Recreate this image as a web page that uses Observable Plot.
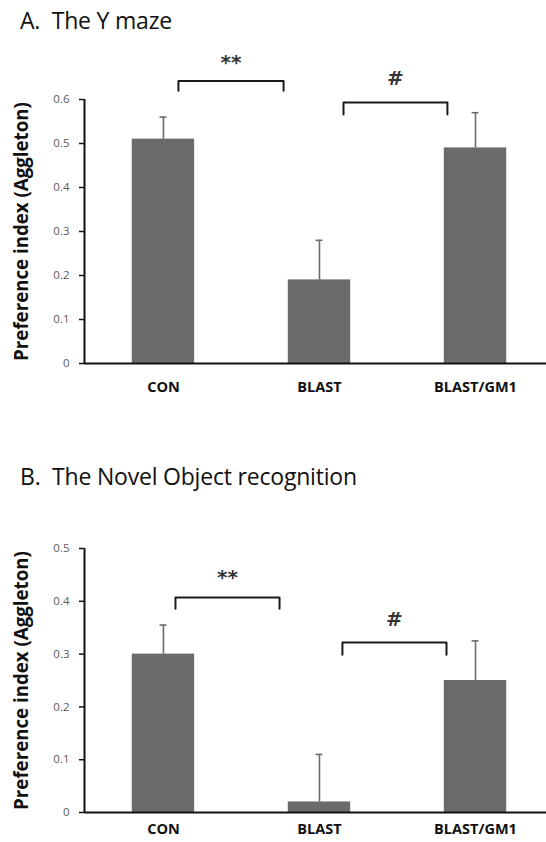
<!DOCTYPE html>
<html>
<head>
<meta charset="utf-8">
<script src="https://cdn.jsdelivr.net/npm/d3@7"></script>
<script src="https://cdn.jsdelivr.net/npm/@observablehq/plot@0.6"></script>
<style>
  html, body { margin: 0; padding: 0; background: #fff; }
  #root { position: relative; width: 546px; height: 842px; overflow: hidden; font-family: "Open Sans", Lato, sans-serif; }
  .title { position: absolute; left: 20px; font-size: 23px; color: #111; white-space: pre; line-height: 1; z-index: 2; letter-spacing: -0.2px; }
  .panel { position: absolute; left: 0; z-index: 1; }
  .panel svg { background: transparent !important; }
</style>
</head>
<body>
<div id="root">
  <div class="title" id="tA" style="top:9px">A.  The Y maze</div>
  <div class="panel" id="pA" style="top:40px"></div>
  <div class="title" id="tB" style="top:465px">B.  The Novel Object recognition</div>
  <div class="panel" id="pB" style="top:480px"></div>
</div>
<script>
// ---- data ----
const categories = ["CON", "BLAST", "BLAST/GM1"];
const mazeMean = [0.51, 0.19, 0.49];
const mazeErr = [0.05, 0.09, 0.08];
const novelMean = [0.30, 0.02, 0.25];
const novelErr = [0.055, 0.09, 0.075];
const mazeTicks = [0, 0.1, 0.2, 0.3, 0.4, 0.5, 0.6];
const novelTicks = [0, 0.1, 0.2, 0.3, 0.4, 0.5];
const yLabel = "Preference index (Aggleton)";
// significance brackets: from/to in category index units, top/leg in y units
const mazeBrackets = [
  {from: 0.096, to: 0.77, top: 0.642, leg: 0.62, label: "**", labelY: 0.683},
  {from: 1.154, to: 1.82, top: 0.593, leg: 0.566, label: "#", labelY: 0.648}
];
const novelBrackets = [
  {from: 0.077, to: 0.744, top: 0.407, leg: 0.386, label: "**", labelY: 0.445},
  {from: 1.147, to: 1.814, top: 0.322, leg: 0.299, label: "#", labelY: 0.366}
];

const xDomain = [-0.506, 2.455];
const barColor = "#6b6b6b";

function panel({means, errs, ticks, brackets, height, marginTop, marginBottom, labelPad}) {
  const rows = categories.map((c, i) => ({i, c, v: means[i], e: errs[i]}));
  const bracketPts = brackets.flatMap((b, k) => [
    {k, x: b.from, y: b.leg}, {k, x: b.from, y: b.top},
    {k, x: b.to, y: b.top}, {k, x: b.to, y: b.leg}
  ]);
  return Plot.plot({
    width: 546,
    height,
    marginLeft: 84,
    marginRight: 0,
    marginTop,
    marginBottom,
    style: {fontFamily: "'Open Sans', Lato, sans-serif", background: "transparent"},
    x: {type: "linear", domain: xDomain, axis: null},
    y: {domain: [0, ticks[ticks.length - 1]], axis: null},
    marks: [
      Plot.rectY(rows, {x1: d => d.i - 0.2, x2: d => d.i + 0.2, y1: 0, y2: "v", fill: barColor}),
      Plot.ruleX(rows, {x: "i", y1: "v", y2: d => d.v + d.e, stroke: barColor, strokeWidth: 1.6}),
      Plot.ruleY(rows, {y: d => d.v + d.e, x1: d => d.i - 0.022, x2: d => d.i + 0.022, stroke: barColor, strokeWidth: 1.6}),
      Plot.ruleX([xDomain[0]], {stroke: "#111", strokeWidth: 2}),
      Plot.ruleY([0], {stroke: "#111", strokeWidth: 2}),
      Plot.axisY({ticks, tickSize: 5, tickPadding: 10, tickFormat: d => d === 0 ? "0" : d3.format(".1f")(d), fontSize: 11.5, color: "#5a5a5a", stroke: "#111", strokeWidth: 1.5, label: null}),
      Plot.axisX({ticks: [0, 1, 2], tickSize: 0, tickPadding: labelPad, tickFormat: i => categories[i], fontSize: 14.5, fontWeight: "bold", fill: "#111", label: null}),
      Plot.text([yLabel], {frameAnchor: "left", dx: -62, rotate: -90, text: d => d, fontSize: 18.7, fontWeight: "bold", fill: "#111", textAnchor: "middle"}),
      Plot.line(bracketPts, {x: "x", y: "y", z: "k", stroke: "#1a1a1a", strokeWidth: 2, strokeLinejoin: "round", strokeLinecap: "round"}),
      Plot.text(brackets, {x: b => (b.from + b.to) / 2, y: "labelY", text: "label", fontSize: 20, fontWeight: "bold", fill: "#333", lineAnchor: "middle", fontFamily: "'DejaVu Sans', sans-serif"})
    ]
  });
}

document.getElementById("pA").appendChild(panel({
  means: mazeMean, errs: mazeErr, ticks: mazeTicks, brackets: mazeBrackets,
  height: 360, marginTop: 59, marginBottom: 37, labelPad: 18
}));
document.getElementById("pB").appendChild(panel({
  means: novelMean, errs: novelErr, ticks: novelTicks, brackets: novelBrackets,
  height: 362, marginTop: 68, marginBottom: 30, labelPad: 11
}));
</script>
</body>
</html>
